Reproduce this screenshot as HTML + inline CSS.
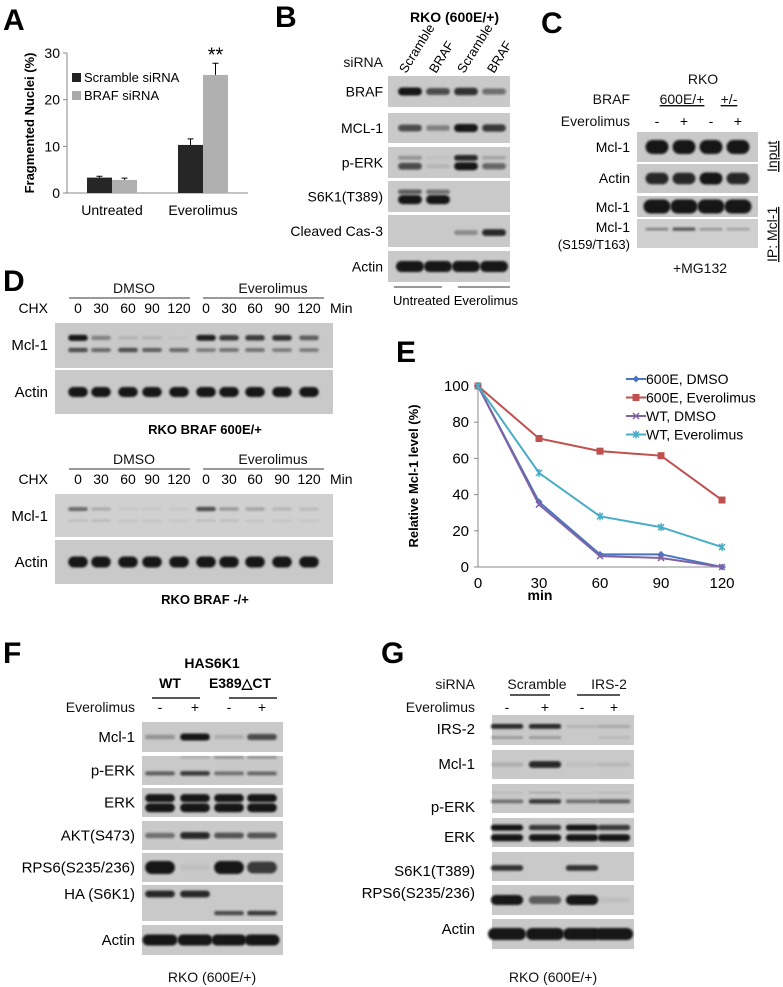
<!DOCTYPE html>
<html><head><meta charset="utf-8">
<style>
html,body{margin:0;padding:0;background:#fff;}
svg{display:block;font-family:"Liberation Sans",Arial,sans-serif;}
.L{font-size:14px;fill:#111;}
.P{font-size:30px;font-weight:bold;fill:#000;}
</style></head>
<body>
<svg id="fig" width="783" height="987" viewBox="0 0 783 987" xmlns="http://www.w3.org/2000/svg">
<defs><filter id="bl" x="-20%" y="-50%" width="140%" height="200%"><feGaussianBlur stdDeviation="1.1"/></filter></defs>
<text class="P" x="3" y="30">A</text>
<text class="P" x="275" y="27">B</text>
<text class="P" x="541" y="33">C</text>
<text class="P" x="3" y="291">D</text>
<text class="P" x="396" y="362">E</text>
<text class="P" x="3" y="663">F</text>
<text class="P" x="381" y="663">G</text>

<g id="panelA">
<text transform="translate(34,123) rotate(-90)" text-anchor="middle" style="font-size:13px;font-weight:bold">Fragmented Nuclei (%)</text>
<rect x="72" y="73" width="9" height="9" fill="#222"/>
<text x="84" y="82" style="font-size:13px">Scramble siRNA</text>
<rect x="72" y="91" width="9" height="9" fill="#aaa"/>
<text x="84" y="100" style="font-size:13px">BRAF siRNA</text>
</g>

<text x="410" y="22" style="font-size:14px;font-weight:bold">RKO (600E/+)</text>
<text class="L" x="383" y="67" text-anchor="end">siRNA</text>
<text transform="translate(406,74) rotate(-58)" style="font-size:13px">Scramble</text>
<text transform="translate(436,74) rotate(-58)" style="font-size:13px">BRAF</text>
<text transform="translate(464,74) rotate(-58)" style="font-size:13px">Scramble</text>
<text transform="translate(494,74) rotate(-58)" style="font-size:13px">BRAF</text>
<line x1="394" y1="287" x2="442" y2="287" stroke="#333"/>
<line x1="458" y1="287" x2="510" y2="287" stroke="#333"/>
<text x="393" y="305" style="font-size:13px">Untreated Everolimus</text>

<text class="L" x="703" y="84" text-anchor="middle">RKO</text>
<text class="L" x="630" y="104" text-anchor="end">BRAF</text>
<text class="L" x="682" y="104" text-anchor="middle" text-decoration="underline">600E/+</text>
<text class="L" x="729" y="104" text-anchor="middle" text-decoration="underline">+/-</text>
<text class="L" x="630" y="126" text-anchor="end">Everolimus</text>
<text class="L" x="700" y="273" text-anchor="middle">+MG132</text>
<text class="L" transform="translate(777,172) rotate(-90)" text-decoration="underline">Input</text>
<text class="L" transform="translate(777,262) rotate(-90)" text-decoration="underline">IP: Mcl-1</text>

<text class="L" x="134" y="293" text-anchor="middle">DMSO</text>
<line x1="69" y1="298" x2="190" y2="298" stroke="#333"/>
<text class="L" x="273" y="293" text-anchor="middle">Everolimus</text>
<line x1="203" y1="298" x2="324" y2="298" stroke="#333"/>
<text x="205" y="434" text-anchor="middle" style="font-size:13px;font-weight:bold">RKO BRAF 600E/+</text>
<text class="L" x="134" y="464" text-anchor="middle">DMSO</text>
<line x1="69" y1="469" x2="190" y2="469" stroke="#333"/>
<text class="L" x="273" y="464" text-anchor="middle">Everolimus</text>
<line x1="203" y1="469" x2="324" y2="469" stroke="#333"/>
<text x="205" y="604" text-anchor="middle" style="font-size:13px;font-weight:bold">RKO BRAF -/+</text>

<g id="panelE">
<text transform="translate(418,476) rotate(-90)" text-anchor="middle" style="font-size:13px;font-weight:bold">Relative Mcl-1 level (%)</text>
<text x="540" y="600" text-anchor="middle" style="font-size:14px;font-weight:bold">min</text>
</g>

<text x="212" y="668" text-anchor="middle" style="font-size:14px;font-weight:bold">HAS6K1</text>
<text x="170" y="688" text-anchor="middle" style="font-size:14px;font-weight:bold">WT</text>
<text x="240" y="688" text-anchor="middle" style="font-size:14px;font-weight:bold">E389△CT</text>
<line x1="152" y1="698" x2="200" y2="698" stroke="#222" stroke-width="1.5"/>
<line x1="229" y1="698" x2="277" y2="698" stroke="#222" stroke-width="1.5"/>
<text class="L" x="135" y="712" text-anchor="end">Everolimus</text>
<text class="L" x="212" y="982" text-anchor="middle">RKO (600E/+)</text>

<text class="L" x="475" y="689" text-anchor="end">siRNA</text>
<text class="L" x="537" y="689" text-anchor="middle">Scramble</text>
<text class="L" x="609" y="689" text-anchor="middle">IRS-2</text>
<line x1="510" y1="695" x2="550" y2="695" stroke="#222" stroke-width="1.5"/>
<line x1="577" y1="695" x2="620" y2="695" stroke="#222" stroke-width="1.5"/>
<text class="L" x="475" y="712" text-anchor="end">Everolimus</text>
<text class="L" x="553" y="982" text-anchor="middle">RKO (600E/+)</text>
</svg>

<script>
// ---------- Panel A data ----------
const aCategories = ["Untreated", "Everolimus"];
const aScramble = [3.3, 10.3];
const aBraf = [2.8, 25.3];
const aScrambleErr = [0.3, 1.3];
const aBrafErr = [0.4, 2.5];
const aTicks = [0, 10, 20, 30];

// ---------- Panel E data ----------
const eMinutes = [0, 30, 60, 90, 120];
const e600Dmso = [100, 36, 7, 7, 0];
const e600Evero = [100, 71, 64, 61.5, 37];
const eWtDmso = [100, 34.5, 6, 5, 0];
const eWtEvero = [100, 52, 28, 22, 11];
const eTicksY = [0, 20, 40, 60, 80, 100];
const eSeriesNames = ["600E, DMSO", "600E, Everolimus", "WT, DMSO", "WT, Everolimus"];

const NS = "http://www.w3.org/2000/svg";
const svg = document.getElementById("fig");
function mk(tag, attrs, parent) {
  const e = document.createElementNS(NS, tag);
  for (const k in attrs) e.setAttribute(k, attrs[k]);
  (parent || svg).appendChild(e);
  return e;
}

// Panel A
const gA = document.getElementById("panelA");
const ayScale = v => 193 - v * 140 / 30;
const aGroupX = i => 87 + i * 91;
let ax = mk("line", {x1: 67, y1: 53, x2: 67, y2: 193, stroke: "#888"}, gA);


ax = mk("line", {x1: 67, y1: 193, x2: 248, y2: 193, stroke: "#888"}, gA);


aTicks.forEach(t => {
  const tk = mk("line", {x1: 63, y1: ayScale(t), x2: 67, y2: ayScale(t), stroke: "#888"}, gA);
  
  
  const tl = mk("text", {x: 60, y: ayScale(t) + 5, "text-anchor": "end", style: "font-size:14px"}, gA);
  tl.textContent = t;
  
  
});
aCategories.forEach((c, i) => {
  const gx = aGroupX(i);
  const b1 = mk("rect", {x: gx, y: ayScale(aScramble[i]), width: 25, height: 193 - ayScale(aScramble[i]), fill: "#262626"}, gA);
  
  
  const b2 = mk("rect", {x: gx + 25, y: ayScale(aBraf[i]), width: 25, height: 193 - ayScale(aBraf[i]), fill: "#b0b0b0"}, gA);
  
  
  const e1 = mk("path", {d: `M${gx+12.5},${ayScale(aScramble[i])} V${ayScale(aScramble[i]+aScrambleErr[i])} m-3,0 h6`, stroke: "#000", fill: "none"}, gA);
  
  
  const e2 = mk("path", {d: `M${gx+37.5},${ayScale(aBraf[i])} V${ayScale(aBraf[i]+aBrafErr[i])} m-3,0 h6`, stroke: "#000", fill: "none"}, gA);
  
  
  const cl = mk("text", {x: gx + 25, y: 215, "text-anchor": "middle", style: "font-size:14px"}, gA);
  cl.textContent = c;
  
  
});
const star = mk("text", {x: aGroupX(1) + 37.5, y: ayScale(aBraf[1] + aBrafErr[1]) - 2, "text-anchor": "middle", style: "font-size:20px"}, gA);
star.textContent = "**";



// Panel E
const gE = document.getElementById("panelE");
const exScale = v => 478 + v * (722 - 478) / 120;
const eyScale = v => 567 - v * 1.81;
ax = mk("line", {x1: 478, y1: eyScale(100), x2: 478, y2: 567, stroke: "#888"}, gE);


ax = mk("line", {x1: 478, y1: 567, x2: 726, y2: 567, stroke: "#888"}, gE);


eTicksY.forEach(t => {
  const tk = mk("line", {x1: 474, y1: eyScale(t), x2: 478, y2: eyScale(t), stroke: "#888"}, gE);
  
  
  const tl = mk("text", {x: 469, y: eyScale(t) + 5, "text-anchor": "end", style: "font-size:15px"}, gE);
  tl.textContent = t;
  
  
});
eMinutes.forEach(m => {
  const tl = mk("text", {x: exScale(m), y: 588, "text-anchor": "middle", style: "font-size:15px"}, gE);
  tl.textContent = m;
  
  
});
const eSeries = [e600Dmso, e600Evero, eWtDmso, eWtEvero];
const eColors = ["#4a74c4", "#c0504d", "#8064a2", "#4bacc6"];
function marker(kind, x, y, col, parent) {
  let m;
  if (kind === 0) m = mk("path", {d: `M${x},${y-3.5} L${x+3.5},${y} L${x},${y+3.5} L${x-3.5},${y}Z`, fill: col}, parent);
  else if (kind === 1) m = mk("rect", {x: x - 3.5, y: y - 3.5, width: 7, height: 7, fill: col}, parent);
  else if (kind === 2) m = mk("path", {d: `M${x-3},${y-3} L${x+3},${y+3} M${x-3},${y+3} L${x+3},${y-3}`, stroke: col, "stroke-width": 1.5}, parent);
  else m = mk("path", {d: `M${x-3},${y-3} L${x+3},${y+3} M${x-3},${y+3} L${x+3},${y-3} M${x},${y-4} V${y+4}`, stroke: col, "stroke-width": 1.5}, parent);
  return m;
}
eSeries.forEach((s, k) => {
  const pts = s.map((v, i) => exScale(eMinutes[i]) + "," + eyScale(v)).join(" ");
  const pl = mk("polyline", {points: pts, fill: "none", stroke: eColors[k], "stroke-width": 2}, gE);
  
  
  s.forEach((v, i) => {
    const m = marker(k, exScale(eMinutes[i]), eyScale(v), eColors[k], gE);
    
    
  });
  const ly = 379 + k * 18.5;
  const ll = mk("line", {x1: 626, y1: ly, x2: 646, y2: ly, stroke: eColors[k], "stroke-width": 2}, gE);
  
  
  const lm = marker(k, 636, ly, eColors[k], gE);
  
  
  const lt = mk("text", {x: 646, y: ly + 5, style: "font-size:14px"}, gE);
  lt.textContent = eSeriesNames[k];
  
  
});

// ---------- Western blots ----------
function label(txt, x, y, anchor, name, size) {
  const t = mk("text", {x: x, y: y, "text-anchor": anchor || "end", style: "font-size:" + (size || 14) + "px"});
  t.textContent = txt;
  
  
  return t;
}
function blot(name, x, y, w, h, lanes, bands, bg) {
  const g = mk("g", {});
  
  
  mk("rect", {x: x, y: y, width: w, height: h, fill: bg || "#c9c9c9"}, g);
  const sp = lanes.length > 1 ? lanes[1] - lanes[0] : 25;
  bands.forEach(b => {
    const [vals, bh, cf, wf] = b;
    vals.forEach((v, i) => {
      if (v <= 0) return;
      const bw = sp * (wf || 0.85);
      const hh = bh * (0.5 + 0.5 * v);
      mk("rect", {x: lanes[i] - bw / 2, y: y + h * cf - hh / 2, width: bw, height: hh, rx: hh / 2, fill: "#141414", opacity: Math.min(1, v), filter: "url(#bl)"}, g);
    });
  });
  return g;
}

// Panel B
const bL = [410, 438, 466, 494];
const bRows = [["BRAF", 76, 31, [[[1, 0.7, 0.85, 0.5], 8, 0.5]]],
  ["MCL-1", 113, 30, [[[0.7, 0.4, 1, 0.8], 8, 0.5]]],
  ["p-ERK", 147, 31, [[[0.3, 0.05, 0.9, 0.2], 6, 0.35], [[0.7, 0.1, 1, 0.55], 8, 0.62]]],
  ["S6K1(T389)", 181, 31, [[[0.6, 0.5, 0, 0], 6, 0.35], [[1, 1, 0, 0], 9, 0.6]]],
  ["Cleaved Cas-3", 215, 32, [[[0, 0, 0.35, 0.9], 7, 0.55]]],
  ["Actin", 251, 31, [[[1, 1, 1, 1], 11, 0.5, 1]]]];
bRows.forEach(r => {
  blot("b-blot-" + r[0].toLowerCase().replace(/[^a-z0-9]/g, ""), 388, r[1], 122, r[2], bL, r[3]);
  label(r[0], 383, r[1] + r[2] / 2 + 5, "end", "b-row-label");
});

// Panel C
const cL = [657, 684, 711, 738];
["-", "+", "-", "+"].forEach((s, i) => label(s, cL[i], 126, "middle", "c-lane-sign"));
blot("c-blot-mcl1-input", 637, 132, 121, 30, cL, [[[1, 1, 1, 1], 14, 0.5]]);
label("Mcl-1", 630, 152, "end", "c-row-label");
blot("c-blot-actin", 637, 164, 121, 29, cL, [[[0.9, 0.9, 1, 0.9], 12, 0.5]]);
label("Actin", 630, 183, "end", "c-row-label");
blot("c-blot-mcl1-ip", 637, 196, 121, 21, cL, [[[1, 1, 1, 1], 14, 0.5, 1]]);
label("Mcl-1", 630, 212, "end", "c-row-label");
blot("c-blot-mcl1-phospho", 637, 219, 121, 29, cL, [[[0.4, 0.65, 0.3, 0.25], 4, 0.35]], "#cfcfcf");
label("Mcl-1", 630, 232, "end", "c-row-label");
label("(S159/T163)", 630, 249, "end", "c-row-label", 13);

// Panel D
const dL = [78, 101, 128, 152, 179, 206, 229, 255, 282, 309];
const dMin = ["0", "30", "60", "90", "120", "0", "30", "60", "90", "120"];
[313, 484].forEach(yy => {
  label("CHX", 48, yy, "end", "d-chx-label");
  dMin.forEach((m, i) => label(m, dL[i], yy, "middle", "d-time-label"));
  label("Min", 330, yy, "start", "d-min-label");
});
blot("d1-blot-mcl1", 55, 323, 278, 45, dL, [[[1, 0.4, 0.12, 0.12, 0.03, 0.95, 0.8, 0.8, 0.85, 0.6], 6, 0.33], [[0.7, 0.55, 0.7, 0.6, 0.55, 0.45, 0.5, 0.5, 0.45, 0.45], 5, 0.6]]);
label("Mcl-1", 48, 350, "end", "d-row-label", 15);
blot("d1-blot-actin", 55, 370, 278, 44, dL, [[[1, 1, 1, 1, 1, 1, 1, 1, 1, 1], 10, 0.5]]);
label("Actin", 48, 397, "end", "d-row-label", 15);
blot("d2-blot-mcl1", 55, 494, 278, 43, dL, [[[0.55, 0.2, 0.05, 0.05, 0.05, 0.7, 0.3, 0.25, 0.15, 0.12], 5, 0.35], [[0.1, 0.12, 0.08, 0.08, 0.06, 0.1, 0.1, 0.08, 0.08, 0.06], 4, 0.62]], "#d0d0d0");
label("Mcl-1", 48, 521, "end", "d-row-label", 15);
blot("d2-blot-actin", 55, 540, 278, 44, dL, [[[1, 1, 1, 1, 1, 1, 1, 1, 1, 1], 11, 0.5]]);
label("Actin", 48, 567, "end", "d-row-label", 15);

// Panel F
const fL = [160, 195, 229, 262];
["-", "+", "-", "+"].forEach((s, i) => label(s, fL[i], 712, "middle", "f-lane-sign"));
const fRows = [["Mcl-1", 722, 30, [[[0.3, 1, 0.15, 0.7], 7, 0.5]]],
  ["p-ERK", 756, 29, [[[0, 0.15, 0.3, 0.3], 4, 0.05], [[0.6, 0.8, 0.5, 0.55], 5, 0.6]]],
  ["ERK", 788, 29, [[[1, 1, 1, 1], 8, 0.35], [[1, 1, 1, 1], 9, 0.68]]],
  ["AKT(S473)", 821, 29, [[[0.5, 0.9, 0.65, 0.65], 7, 0.5]]],
  ["RPS6(S235/236)", 853, 29, [[[1, 0.05, 1, 0.8], 13, 0.5]]],
  ["HA (S6K1)", 885, 36, [[[0.9, 0.9, 0, 0], 7, 0.25], [[0, 0, 0.7, 0.8], 5, 0.78]]],
  ["Actin", 925, 30, [[[1, 1, 1, 1], 11, 0.5, 1]]]];
fRows.forEach((r, k) => {
  blot("f-blot-" + r[0].toLowerCase().replace(/[^a-z0-9]/g, ""), 142, r[1], 141, r[2], fL, r[3]);
  const ly = k === 5 ? r[1] + 14 : r[1] + r[2] / 2 + 5;
  label(r[0], 135, ly, "end", "f-row-label", 15);
});

// Panel G
const gL = [507, 545, 582, 614];
["-", "+", "-", "+"].forEach((s, i) => label(s, gL[i], 712, "middle", "g-lane-sign"));
const gRows = [["IRS-2", 715, 30, 734, [[[0.9, 0.9, 0.12, 0.18], 5, 0.38], [[0.3, 0.3, 0, 0.1], 4, 0.75]]],
  ["Mcl-1", 750, 29, 769, [[[0.15, 0.9, 0.05, 0.1], 7, 0.5]]],
  ["p-ERK", 784, 29, 812, [[[0.1, 0.2, 0.05, 0.1], 3, 0.3], [[0.5, 0.8, 0.5, 0.6], 5, 0.6]]],
  ["ERK", 818, 29, 842, [[[1, 0.8, 1, 0.8], 6, 0.33], [[1, 1, 1, 1], 7, 0.68]]],
  ["S6K1(T389)", 852, 29, 876, [[[0.85, 0, 0.85, 0], 6, 0.55]]],
  ["RPS6(S235/236)", 885, 30, 898, [[[1, 0.6, 1, 0.05], 10, 0.5]]],
  ["Actin", 919, 30, 934, [[[1, 1, 1, 1], 12, 0.5, 1]]]];
gRows.forEach(r => {
  blot("g-blot-" + r[0].toLowerCase().replace(/[^a-z0-9]/g, ""), 492, r[1], 142, r[2], gL, r[4]);
  label(r[0], 475, r[3], "end", "g-row-label", 15);
});
</script>
</body></html>
